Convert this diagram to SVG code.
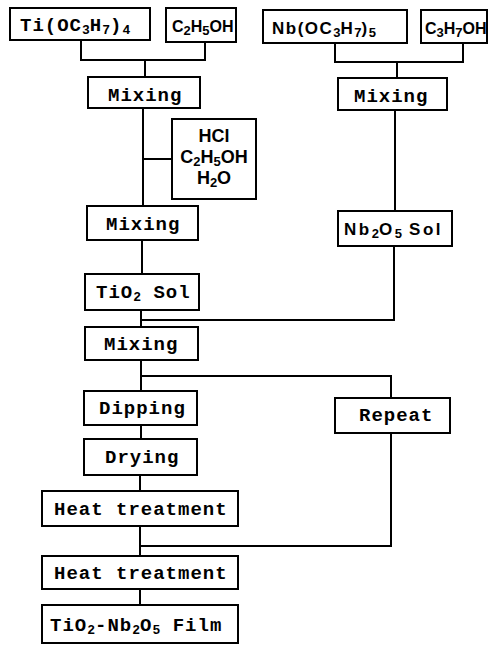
<svg xmlns="http://www.w3.org/2000/svg" width="496" height="647" viewBox="0 0 496 647">
<style>
.n rect{fill:#fff;stroke:#000;stroke-width:2}
.c path{fill:none;stroke:#000;stroke-width:2}
text{font-family:"Liberation Mono","DejaVu Sans Mono",monospace;font-weight:bold;font-size:19px;fill:#000;letter-spacing:1px}
text.s{font-family:"Liberation Sans",Arial,sans-serif;font-size:17px;letter-spacing:0}
tspan.sub{font-size:13px;letter-spacing:0}
</style>
<rect width="496" height="647" fill="#fff"/>
<g class="c" id="connectors">
<path d="M81,40V60H205V42M145,60V77"/>
<path d="M335,43V62H463V43M397,62V78"/>
<path d="M143,108V206M143,159H172"/>
<path d="M395,110V211"/>
<path d="M142,240V274"/>
<path d="M394,246V320H141"/>
<path d="M141,310V327"/>
<path d="M141,360V391M141,376H391V398"/>
<path d="M141,425V439"/>
<path d="M140,475V491"/>
<path d="M391,433V546H140"/>
<path d="M140,526V556"/>
<path d="M140,589V605"/>
</g>
<g class="n" id="ti"><rect x="10" y="8" width="140" height="32"/><text x="20" y="31">Ti(OC<tspan class="sub" dy="3">3</tspan><tspan dy="-3">H</tspan><tspan class="sub" dy="3">7</tspan><tspan dy="-3">)</tspan><tspan class="sub" dy="3">4</tspan></text></g>
<g class="n" id="etoh"><rect x="166" y="8" width="70" height="34"/><text class="s" x="172" y="32" style="font-size:16px">C<tspan class="sub" dy="3">2</tspan><tspan dy="-3">H</tspan><tspan class="sub" dy="3">5</tspan><tspan dy="-3">OH</tspan></text></g>
<g class="n" id="nb"><rect x="263" y="10" width="144" height="33"/><text class="s" x="272" y="34" style="letter-spacing:1.5px">Nb(OC<tspan class="sub" dy="3">3</tspan><tspan dy="-3">H</tspan><tspan class="sub" dy="3">7</tspan><tspan dy="-3">)</tspan><tspan class="sub" dy="3">5</tspan></text></g>
<g class="n" id="proh"><rect x="421" y="10" width="66" height="33"/><text class="s" x="425" y="34" style="font-size:16px">C<tspan class="sub" dy="3">3</tspan><tspan dy="-3">H</tspan><tspan class="sub" dy="3">7</tspan><tspan dy="-3">OH</tspan></text></g>
<g class="n" id="mix1"><rect x="88" y="77" width="112" height="31"/><text x="108" y="101">Mixing</text></g>
<g class="n" id="mixr"><rect x="338" y="78" width="109" height="32"/><text x="354" y="102">Mixing</text></g>
<g class="n" id="hcl"><rect x="172" y="119" width="84" height="80"/>
<text class="s" x="214" y="142" text-anchor="middle" style="font-size:18px">HCl</text>
<text class="s" x="214" y="163" text-anchor="middle" style="font-size:18px">C<tspan class="sub" dy="3">2</tspan><tspan dy="-3">H</tspan><tspan class="sub" dy="3">5</tspan><tspan dy="-3">OH</tspan></text>
<text class="s" x="214" y="184" text-anchor="middle" style="font-size:18px">H<tspan class="sub" dy="3">2</tspan><tspan dy="-3">O</tspan></text></g>
<g class="n" id="mix2"><rect x="87" y="206" width="111" height="34"/><text x="106" y="230">Mixing</text></g>
<g class="n" id="tio2sol"><rect x="85" y="274" width="114" height="36"/><text x="96" y="298">TiO<tspan class="sub" dy="3">2</tspan><tspan dy="-3"> Sol</tspan></text></g>
<g class="n" id="nb2o5sol"><rect x="338" y="211" width="114" height="35"/><text class="s" x="344" y="235" style="letter-spacing:2.5px">Nb<tspan class="sub" dy="3">2</tspan><tspan dy="-3">O</tspan><tspan class="sub" dy="3">5</tspan><tspan dy="-3">  Sol</tspan></text></g>
<g class="n" id="mix3"><rect x="85" y="327" width="113" height="33"/><text x="104" y="350">Mixing</text></g>
<g class="n" id="dipping"><rect x="84" y="391" width="113" height="34"/><text x="99" y="414">Dipping</text></g>
<g class="n" id="repeat"><rect x="335" y="398" width="115" height="35"/><text x="359" y="421">Repeat</text></g>
<g class="n" id="drying"><rect x="84" y="439" width="113" height="36"/><text x="105" y="463">Drying</text></g>
<g class="n" id="heat1"><rect x="42" y="491" width="196" height="35"/><text x="54" y="515">Heat treatment</text></g>
<g class="n" id="heat2"><rect x="42" y="556" width="196" height="33"/><text x="54" y="579">Heat treatment</text></g>
<g class="n" id="film"><rect x="42" y="605" width="196" height="38"/><text x="50" y="631">TiO<tspan class="sub" dy="3">2</tspan><tspan dy="-3">-Nb</tspan><tspan class="sub" dy="3">2</tspan><tspan dy="-3">O</tspan><tspan class="sub" dy="3">5</tspan><tspan dy="-3"> Film</tspan></text></g>
</svg>
